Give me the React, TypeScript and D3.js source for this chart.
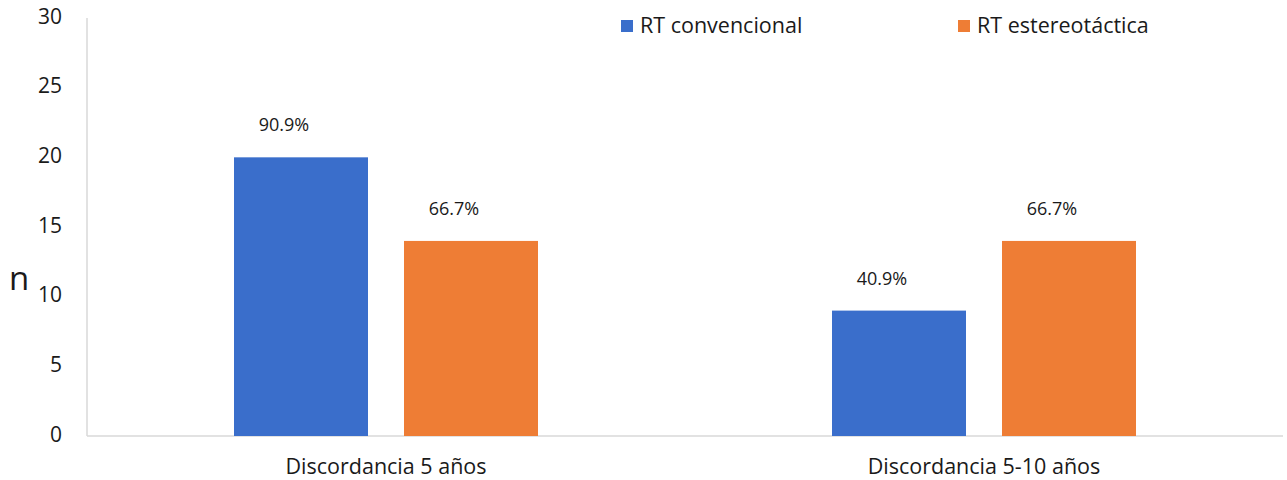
import React from "react";
import * as d3 from "d3";

const categories = ["Discordancia 5 años", "Discordancia 5-10 años"];
const series = ["RT convencional", "RT estereotáctica"];
const convencional = [20, 9];
const estereotactica = [14, 14];
const convLabels = ["90.9%", "40.9%"];
const esteLabels = ["66.7%", "66.7%"];
const yTicks = [0, 5, 10, 15, 20, 25, 30];
const colors = ["#3A6ECB", "#EE7D35"];

const W = 1287;
const H = 480;
const FONT = "'Open Sans', 'Noto Sans', sans-serif";

export default function App() {
  const y = d3.scaleLinear().domain([0, 30]).range([436, 18]);
  const xAxis = d3.scaleBand<string>().domain(categories).range([87, 1283]);
  const inner = d3
    .scaleBand<string>()
    .domain(series)
    .range([-152, 152])
    .paddingInner(0.2118);

  const values = [convencional, estereotactica];
  const labels = [convLabels, esteLabels];

  return (
    <svg
      width={W}
      height={H}
      style={{ position: "absolute", left: 0, top: 0, background: "#fff" }}
      fontFamily={FONT}
    >
      {/* axes */}
      <line x1={87} x2={87} y1={y(30)} y2={y(0)} stroke="#d9d9d9" strokeWidth={1.5} />
      <line x1={87} x2={1283} y1={y(0)} y2={y(0)} stroke="#d9d9d9" strokeWidth={1.5} />

      {/* y ticks */}
      {yTicks.map((t) => (
        <text
          key={t}
          x={62}
          y={y(t)}
          textAnchor="end"
          dominantBaseline="middle"
          fontSize={21}
          fill="#1a1a1a"
        >
          {t}
        </text>
      ))}
      <text x={19} y={281} textAnchor="middle" dominantBaseline="middle" fontSize={33} fill="#1a1a1a">
        n
      </text>

      {/* bars */}
      {categories.map((c, ci) => {
        const center = (xAxis(c) as number) + xAxis.bandwidth() / 2;
        return series.map((s, si) => {
          const v = values[si][ci];
          const x0 = center + (inner(s) as number);
          const bw = inner.bandwidth();
          return (
            <g key={c + s}>
              <rect x={x0} y={y(v)} width={bw} height={y(0) - y(v)} fill={colors[si]} />
              <text
                x={x0 + bw / 2 - 17}
                y={y(v) - 26}
                textAnchor="middle"
                fontSize={18}
                fill="#1a1a1a"
              >
                {labels[si][ci]}
              </text>
            </g>
          );
        });
      })}

      {/* category labels */}
      {categories.map((c) => (
        <text
          key={c}
          x={(xAxis(c) as number) + xAxis.bandwidth() / 2}
          y={474}
          textAnchor="middle"
          fontSize={21.5}
          fill="#1a1a1a"
        >
          {c}
        </text>
      ))}

      {/* legend */}
      {series.map((s, i) => {
        const lx = [621, 958][i];
        return (
          <g key={s}>
            <rect x={lx} y={20} width={12} height={12} fill={colors[i]} />
            <text x={lx + 19} y={27} dominantBaseline="middle" fontSize={21.5} fill="#1a1a1a">
              {s}
            </text>
          </g>
        );
      })}
    </svg>
  );
}
